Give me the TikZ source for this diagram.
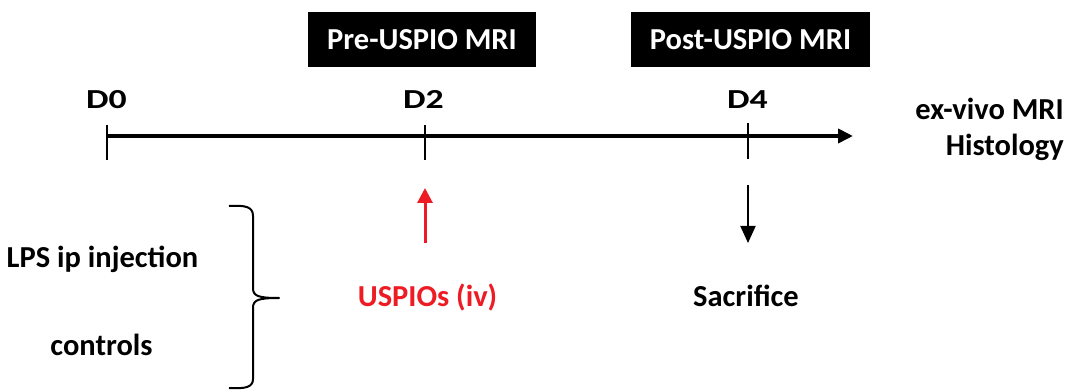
\documentclass[tikz,border=0pt]{standalone}
\usepackage{fontspec}
\setmainfont{Carlito}
\usetikzlibrary{arrows.meta}
\definecolor{uspiored}{RGB}{237,28,36}
\begin{document}
\begin{tikzpicture}[x=1pt,y=-1pt,
  lbl/.style={font=\fontsize{30.5}{34}\selectfont\bfseries, inner sep=0pt, anchor=base},
  daylbl/.style={font=\fontsize{27.5}{32}\selectfont\bfseries, inner sep=0pt, anchor=base},
  mribox/.style={fill=black, text=white, font=\fontsize{30.5}{34}\selectfont\bfseries, minimum height=55pt, inner sep=0pt},
  tick/.style={line width=2.4pt},
  brace/.style={line width=2pt, line join=round}]
\useasboundingbox (0,0) rectangle (1069,390);
% MRI boxes
\node[mribox, minimum width=228pt] (pre) at (422,39.5) {Pre-USPIO MRI};
\node[mribox, minimum width=239pt] (post) at (750.5,39.5) {Post-USPIO MRI};
% day labels
\node[daylbl] (d0) at (106.5,109) {\scalebox{1.3}[1]{D0}};
\node[daylbl] (d2) at (423.5,109) {\scalebox{1.3}[1]{D2}};
\node[daylbl] (d4) at (747.5,109) {\scalebox{1.3}[1]{D4}};
% timeline
\coordinate (tstart) at (107,136);
\coordinate (tend) at (853,136);
\draw[line width=4pt, -{Triangle[length=15pt,width=14pt]}] (tstart) -- (tend);
\coordinate (t0a) at (107,125); \coordinate (t0b) at (107,160);
\coordinate (t2a) at (425,125); \coordinate (t2b) at (425,160);
\coordinate (t4a) at (748,123); \coordinate (t4b) at (748,159);
\draw[tick] (t0a) -- (t0b);
\draw[tick] (t2a) -- (t2b);
\draw[tick] (t4a) -- (t4b);
% right labels
\node[lbl, anchor=base east] (exvivo) at (1064,120) {ex-vivo MRI};
\node[lbl, anchor=base east] (histo) at (1064,156) {Histology};
% arrows
\coordinate (ra) at (425,243); \coordinate (rb) at (425,188);
\draw[uspiored, line width=3pt, -{Triangle[length=15pt,width=15pt]}] (ra) -- (rb);
\coordinate (ba) at (748,185); \coordinate (bb) at (748,243);
\draw[line width=2pt, -{Triangle[length=17pt,width=15pt]}] (ba) -- (bb);
% bottom labels
\node[lbl, text=uspiored] (uspio) at (427.5,307) {USPIOs (iv)};
\node[lbl] (sac) at (746,307) {Sacrifice};
\node[lbl] (lps) at (102.5,268) {LPS ip injection};
\node[lbl] (ctrl) at (101.5,355) {controls};
% brace
\coordinate (bt) at (229,206);
\coordinate (bm) at (279,298);
\coordinate (bbot) at (229,388);
\draw[brace] (bt) .. controls (246,205) and (253,207) .. (253,216)
  -- (253,288) .. controls (253,296) and (258,298) .. (bm)
  .. controls (258,298) and (253,300) .. (253,308)
  -- (253,379) .. controls (253,387) and (246,389) .. (bbot);
\end{tikzpicture}
\end{document}
